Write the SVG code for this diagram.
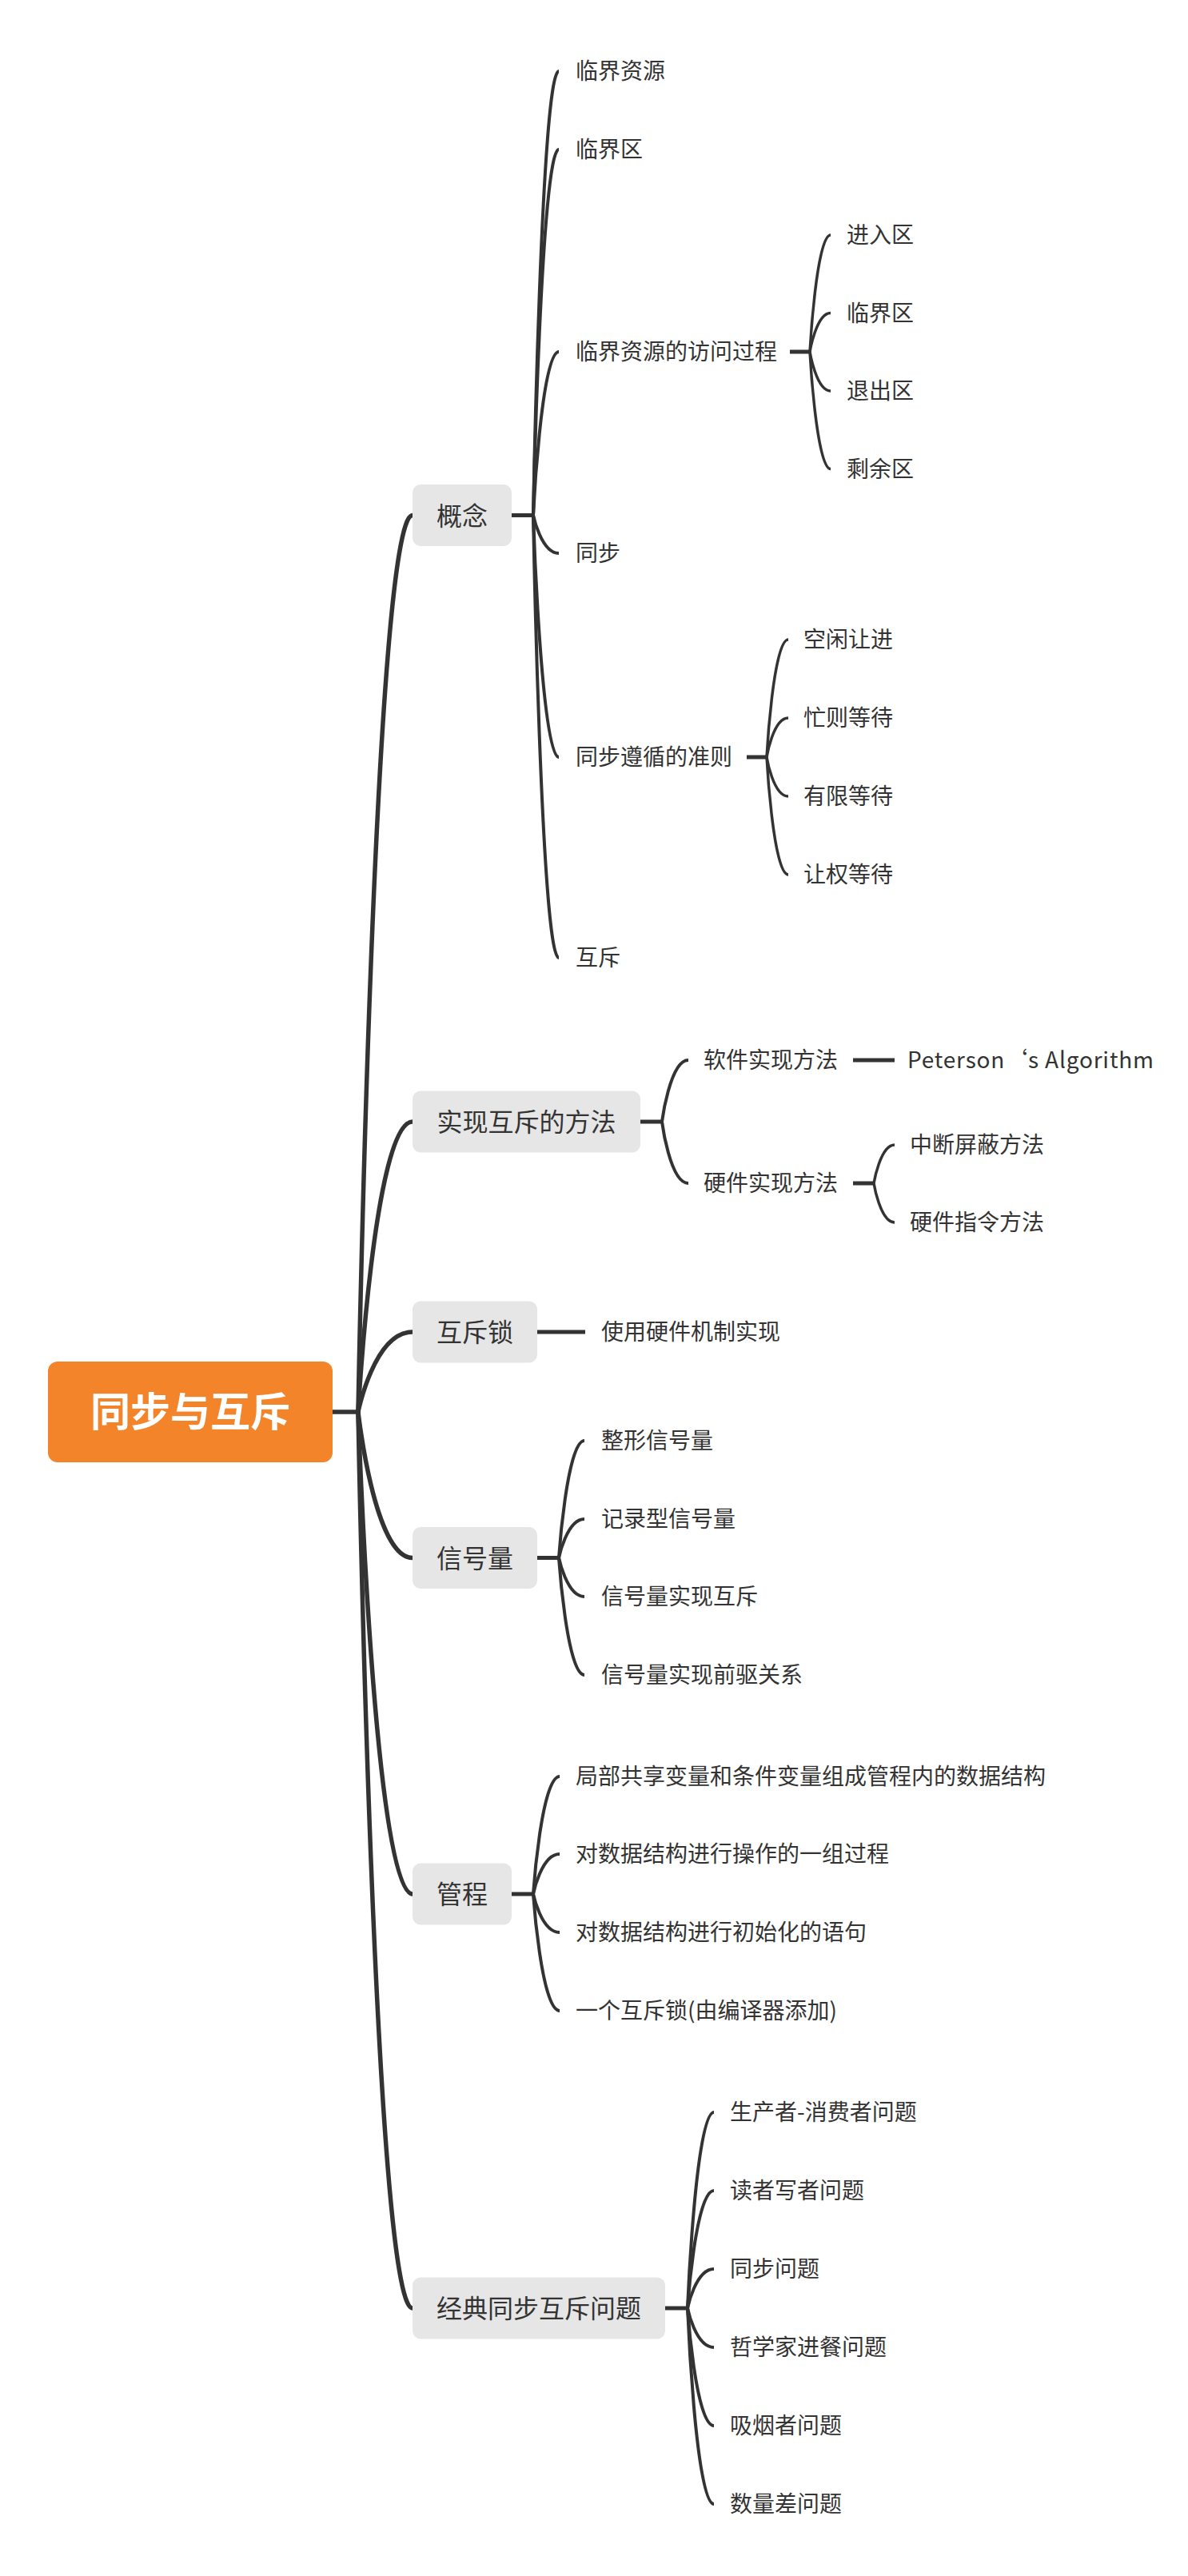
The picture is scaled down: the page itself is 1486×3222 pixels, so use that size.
<svg xmlns="http://www.w3.org/2000/svg" width="1486" height="3222" viewBox="0 0 1486 3222">
<style>
text{font-family:"Noto Sans CJK SC","Noto Sans",sans-serif;fill:#333333}
.t1{font-size:32px;text-anchor:middle}
.t2{font-size:28px}
.root{font-size:50px;font-weight:700;fill:#ffffff;text-anchor:middle}
.box{fill:#e6e6e6}
.c{fill:none;stroke:#333333;stroke-linecap:butt}
.w1{stroke-width:5.5}
.w2{stroke-width:4}
.w3{stroke-width:3.5}
.s{stroke-width:5}
</style>
<rect width="1486" height="3222" fill="#ffffff"/>
<g id="connectors">
<path class="c w1" d="M416 1766H448"/>
<path class="c w1" d="M448 1766C448 1766 468 644.5 516 644.5"/>
<path class="c w1" d="M448 1766C448 1766 468 1403 516 1403"/>
<path class="c w1" d="M448 1766C448 1766 468 1666 516 1666"/>
<path class="c w1" d="M448 1766C448 1766 468 1948.5 516 1948.5"/>
<path class="c w1" d="M448 1766C448 1766 468 2369 516 2369"/>
<path class="c w1" d="M448 1766C448 1766 468 2887 516 2887"/>
<path class="c s" d="M640 644.5H667"/>
<path class="c w2" d="M667 644.5C667 644.5 677 89 699 89"/>
<path class="c w2" d="M667 644.5C667 644.5 677 187 699 187"/>
<path class="c w2" d="M667 644.5C667 644.5 677 440 699 440"/>
<path class="c w2" d="M667 644.5C667 644.5 677 692 699 692"/>
<path class="c w2" d="M667 644.5C667 644.5 677 947 699 947"/>
<path class="c w2" d="M667 644.5C667 644.5 677 1198 699 1198"/>
<path class="c s" d="M988 440H1013"/>
<path class="c w3" d="M1013 440C1013 440 1021 294 1039 294"/>
<path class="c w3" d="M1013 440C1013 440 1021 391.5 1039 391.5"/>
<path class="c w3" d="M1013 440C1013 440 1021 489 1039 489"/>
<path class="c w3" d="M1013 440C1013 440 1021 586.5 1039 586.5"/>
<path class="c s" d="M934 947H959"/>
<path class="c w3" d="M959 947C959 947 967 800 986 800"/>
<path class="c w3" d="M959 947C959 947 967 898 986 898"/>
<path class="c w3" d="M959 947C959 947 967 996 986 996"/>
<path class="c w3" d="M959 947C959 947 967 1094 986 1094"/>
<path class="c s" d="M801 1403H828"/>
<path class="c w2" d="M828 1403C828 1403 838 1326 861 1326"/>
<path class="c w2" d="M828 1403C828 1403 838 1480 861 1480"/>
<path class="c s" d="M1067 1326H1119"/>
<path class="c s" d="M1067 1480H1093"/>
<path class="c w3" d="M1093 1480C1093 1480 1101 1432 1119 1432"/>
<path class="c w3" d="M1093 1480C1093 1480 1101 1529 1119 1529"/>
<path class="c s" d="M672 1666H732"/>
<path class="c s" d="M672 1948.5H699"/>
<path class="c w2" d="M699 1948.5C699 1948.5 709 1802 731 1802"/>
<path class="c w2" d="M699 1948.5C699 1948.5 709 1900 731 1900"/>
<path class="c w2" d="M699 1948.5C699 1948.5 709 1997 731 1997"/>
<path class="c w2" d="M699 1948.5C699 1948.5 709 2095 731 2095"/>
<path class="c s" d="M640 2369H667"/>
<path class="c w2" d="M667 2369C667 2369 677 2222 700 2222"/>
<path class="c w2" d="M667 2369C667 2369 677 2319 700 2319"/>
<path class="c w2" d="M667 2369C667 2369 677 2417 700 2417"/>
<path class="c w2" d="M667 2369C667 2369 677 2515 700 2515"/>
<path class="c s" d="M832 2887H860"/>
<path class="c w2" d="M860 2887C860 2887 870 2642 893 2642"/>
<path class="c w2" d="M860 2887C860 2887 870 2740 893 2740"/>
<path class="c w2" d="M860 2887C860 2887 870 2838 893 2838"/>
<path class="c w2" d="M860 2887C860 2887 870 2936 893 2936"/>
<path class="c w2" d="M860 2887C860 2887 870 3034 893 3034"/>
<path class="c w2" d="M860 2887C860 2887 870 3132 893 3132"/>
</g>
<g id="root"><rect x="60" y="1703" width="356" height="126" rx="12" fill="#f4842a"/><text class="root" x="238" y="1784">同步与互斥</text></g>
<g id="n-gainian"><rect class="box" x="516" y="606" width="124" height="77" rx="10"/><text class="t1" x="578" y="656.5">概念</text></g>
<g id="n-linjieziyuan"><text class="t2" x="720" y="99">临界资源</text></g>
<g id="n-linjiequ"><text class="t2" x="720" y="197">临界区</text></g>
<g id="n-fangwen"><text class="t2" x="720" y="450">临界资源的访问过程</text></g>
<g id="n-jinru"><text class="t2" x="1059" y="304">进入区</text></g>
<g id="n-linjiequ2"><text class="t2" x="1059" y="401.5">临界区</text></g>
<g id="n-tuichu"><text class="t2" x="1059" y="499">退出区</text></g>
<g id="n-shengyu"><text class="t2" x="1059" y="596.5">剩余区</text></g>
<g id="n-tongbu"><text class="t2" x="720" y="702">同步</text></g>
<g id="n-zhunze"><text class="t2" x="720" y="957">同步遵循的准则</text></g>
<g id="n-kongxian"><text class="t2" x="1005" y="810">空闲让进</text></g>
<g id="n-mangze"><text class="t2" x="1005" y="908">忙则等待</text></g>
<g id="n-youxian"><text class="t2" x="1005" y="1006">有限等待</text></g>
<g id="n-rangquan"><text class="t2" x="1005" y="1104">让权等待</text></g>
<g id="n-huchi"><text class="t2" x="720" y="1208">互斥</text></g>
<g id="n-shixian"><rect class="box" x="516" y="1364.5" width="285" height="77" rx="10"/><text class="t1" x="658.5" y="1415">实现互斥的方法</text></g>
<g id="n-ruanjian"><text class="t2" x="880" y="1336">软件实现方法</text></g>
<g id="n-peterson"><text class="t2" x="1135" y="1336" textLength="308" lengthAdjust="spacing">Peterson‘s Algorithm</text></g>
<g id="n-yingjian"><text class="t2" x="880" y="1490">硬件实现方法</text></g>
<g id="n-zhongduan"><text class="t2" x="1138" y="1442">中断屏蔽方法</text></g>
<g id="n-zhiling"><text class="t2" x="1138" y="1539">硬件指令方法</text></g>
<g id="n-suo"><rect class="box" x="516" y="1627.5" width="156" height="77" rx="10"/><text class="t1" x="594" y="1678">互斥锁</text></g>
<g id="n-suo1"><text class="t2" x="752" y="1676">使用硬件机制实现</text></g>
<g id="n-xinhao"><rect class="box" x="516" y="1910" width="156" height="77" rx="10"/><text class="t1" x="594" y="1960.5">信号量</text></g>
<g id="n-x1"><text class="t2" x="752" y="1812">整形信号量</text></g>
<g id="n-x2"><text class="t2" x="752" y="1910">记录型信号量</text></g>
<g id="n-x3"><text class="t2" x="752" y="2007">信号量实现互斥</text></g>
<g id="n-x4"><text class="t2" x="752" y="2105">信号量实现前驱关系</text></g>
<g id="n-guancheng"><rect class="box" x="516" y="2330.5" width="124" height="77" rx="10"/><text class="t1" x="578" y="2381">管程</text></g>
<g id="n-g1"><text class="t2" x="720" y="2232">局部共享变量和条件变量组成管程内的数据结构</text></g>
<g id="n-g2"><text class="t2" x="720" y="2329">对数据结构进行操作的一组过程</text></g>
<g id="n-g3"><text class="t2" x="720" y="2427">对数据结构进行初始化的语句</text></g>
<g id="n-g4"><text class="t2" x="720" y="2525">一个互斥锁(由编译器添加)</text></g>
<g id="n-jingdian"><rect class="box" x="516" y="2848.5" width="316" height="77" rx="10"/><text class="t1" x="674" y="2899">经典同步互斥问题</text></g>
<g id="n-j1"><text class="t2" x="913" y="2652">生产者-消费者问题</text></g>
<g id="n-j2"><text class="t2" x="913" y="2750">读者写者问题</text></g>
<g id="n-j3"><text class="t2" x="913" y="2848">同步问题</text></g>
<g id="n-j4"><text class="t2" x="913" y="2946">哲学家进餐问题</text></g>
<g id="n-j5"><text class="t2" x="913" y="3044">吸烟者问题</text></g>
<g id="n-j6"><text class="t2" x="913" y="3142">数量差问题</text></g>
</svg>
